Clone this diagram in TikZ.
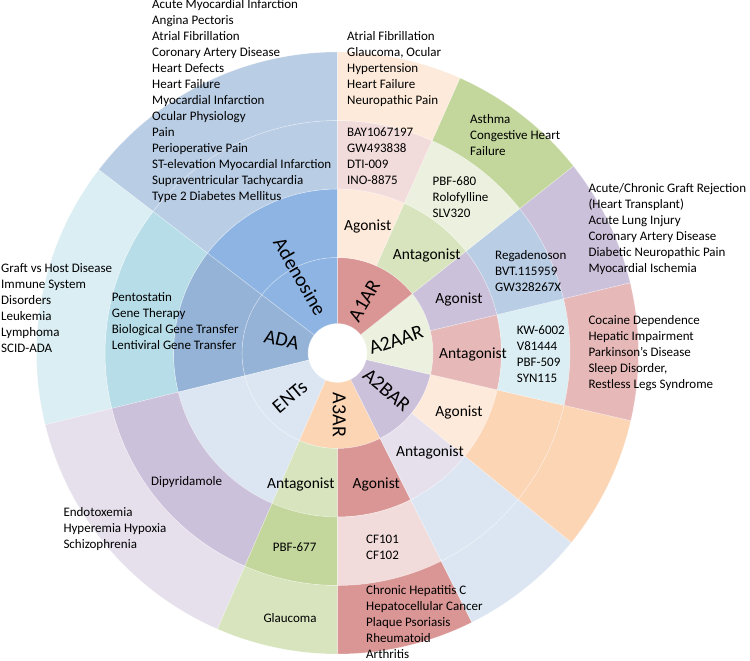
\documentclass[tikz,border=0pt]{standalone}
\usepackage{fontspec}
\setmainfont{Carlito}
\definecolor{adIn}{HTML}{8DB4E2}
\definecolor{adOut}{HTML}{B9CDE5}
\definecolor{adaIn}{HTML}{95B3D7}
\definecolor{cyanMid}{HTML}{B7DEE8}
\definecolor{cyanLt}{HTML}{DAEEF3}
\definecolor{blueLt}{HTML}{DCE6F2}
\definecolor{lav}{HTML}{CCC1DA}
\definecolor{lavLt}{HTML}{E6E0EC}
\definecolor{peach}{HTML}{FCD5B5}
\definecolor{peachLt}{HTML}{FDEADA}
\definecolor{greenLt}{HTML}{D7E4BD}
\definecolor{greenMid}{HTML}{C3D69B}
\definecolor{greenPale}{HTML}{EBF1DE}
\definecolor{redMid}{HTML}{D99694}
\definecolor{pinkLt}{HTML}{F2DCDB}
\definecolor{pinkMid}{HTML}{E6B9B8}
\newcommand{\sunseg}[5]{\path[seg,fill=#5] (#3:#1pt) arc[start angle=#3,end angle=#4,radius=#1pt] -- (#4:#2pt) arc[start angle=#4,end angle=#3,radius=#2pt] -- cycle;}
\begin{document}
\begin{tikzpicture}[x=1pt,y=1pt,
  sm/.style={font=\fontsize{13}{16}\selectfont, align=left, anchor=west, inner sep=0pt},
  md/.style={font=\fontsize{15.5}{18}\selectfont, inner sep=0pt},
  lg/.style={font=\fontsize{20}{24}\selectfont, inner sep=0pt},
  seg/.style={draw=white, draw opacity=0.35, line width=0.6pt}]
\useasboundingbox (0,0) rectangle (750,661);
\begin{scope}[shift={(337.5,308)}]
% Adenosine
\sunseg{29.5}{95.5}{90}{142.5}{adIn}
\sunseg{95.5}{164}{90}{142.5}{adIn}
\sunseg{164}{232.5}{90}{142.5}{adOut}
\sunseg{232.5}{301}{90}{142.5}{adOut}
% ADA
\sunseg{29.5}{95.5}{142.5}{193.8}{adaIn}
\sunseg{95.5}{164}{142.5}{193.8}{adaIn}
\sunseg{164}{232.5}{142.5}{193.8}{cyanMid}
\sunseg{232.5}{301}{142.5}{193.8}{cyanLt}
% ENTs
\sunseg{29.5}{95.5}{193.8}{246.5}{blueLt}
\sunseg{95.5}{164}{193.8}{246.5}{blueLt}
\sunseg{164}{232.5}{193.8}{246.5}{lav}
\sunseg{232.5}{301}{193.8}{246.5}{lavLt}
% A3AR
\sunseg{29.5}{95.5}{246.5}{296.5}{peach}
\sunseg{95.5}{164}{246.5}{270}{greenLt}
\sunseg{164}{232.5}{246.5}{270}{greenMid}
\sunseg{232.5}{301}{246.5}{270}{greenLt}
\sunseg{95.5}{164}{270}{296.5}{redMid}
\sunseg{164}{232.5}{270}{296.5}{pinkLt}
\sunseg{232.5}{301}{270}{296.5}{redMid}
% A2BAR
\sunseg{29.5}{95.5}{-63.5}{-13}{lav}
\sunseg{95.5}{164}{-63.5}{-39}{lavLt}
\sunseg{164}{232.5}{-63.5}{-39}{blueLt}
\sunseg{232.5}{301}{-63.5}{-39}{blueLt}
\sunseg{95.5}{164}{-39}{-13}{peachLt}
\sunseg{164}{232.5}{-39}{-13}{peach}
\sunseg{232.5}{301}{-39}{-13}{peach}
% A2AAR
\sunseg{29.5}{95.5}{-13}{38.4}{greenPale}
\sunseg{95.5}{164}{-13}{13.5}{pinkMid}
\sunseg{164}{232.5}{-13}{13.5}{cyanLt}
\sunseg{232.5}{301}{-13}{13.5}{pinkMid}
\sunseg{95.5}{164}{13.5}{38.4}{lav}
\sunseg{164}{232.5}{13.5}{38.4}{adOut}
\sunseg{232.5}{301}{13.5}{38.4}{lav}
% A1AR
\sunseg{29.5}{95.5}{38.4}{90}{redMid}
\sunseg{95.5}{164}{38.4}{66}{greenLt}
\sunseg{164}{232.5}{38.4}{66}{greenPale}
\sunseg{232.5}{301}{38.4}{66}{greenMid}
\sunseg{95.5}{164}{66}{90}{peachLt}
\sunseg{164}{232.5}{66}{90}{pinkLt}
\sunseg{232.5}{301}{66}{90}{peachLt}
\end{scope}
% inner ring labels
\node[lg,rotate=-60] (lAdenosine) at (300,384.3) {Adenosine};
\node[lg,rotate=60] (lA1AR) at (364.3,360.3) {A1AR};
\node[lg,rotate=18] (lA2AAR) at (396,321) {A2AAR};
\node[lg,rotate=-40] (lA2BAR) at (386.7,271) {A2BAR};
\node[lg,rotate=-90] (lA3AR) at (339.3,246) {A3AR};
\node[lg,rotate=40] (lENTs) at (290,264.3) {ENTs};
\node[lg,rotate=-13] (lADA) at (281.7,321) {ADA};
% ring 2 labels
\node[md] (ag1) at (367.7,434.3) {Agonist};
\node[md] (an1) at (426.7,405) {Antagonist};
\node[md] (ag2a) at (459,361.7) {Agonist};
\node[md] (an2a) at (473,306) {Antagonist};
\node[md] (ag2b) at (459,248.7) {Agonist};
\node[md] (an2b) at (430,208.3) {Antagonist};
\node[md] (ag3) at (376.3,176.7) {Agonist};
\node[md] (an3) at (300.8,176.7) {Antagonist};
% outer lists
\node[sm] (adDis) at (152,560) {Acute Myocardial Infarction\\Angina Pectoris\\Atrial Fibrillation\\Coronary Artery Disease\\Heart Defects\\Heart Failure\\Myocardial Infarction\\Ocular Physiology\\Pain\\Perioperative Pain\\ST-elevation Myocardial Infarction\\Supraventricular Tachycardia\\Type 2 Diabetes Mellitus};
\node[sm] (a1agDis) at (347,592.3) {Atrial Fibrillation\\Glaucoma, Ocular\\Hypertension\\Heart Failure\\Neuropathic Pain};
\node[sm] (a1agDrug) at (347,504.7) {BAY1067197\\GW493838\\DTI-009\\INO-8875};
\node[sm] (a1anDis) at (470,525.7) {Asthma\\Congestive Heart\\Failure};
\node[sm] (a1anDrug) at (432.5,464) {PBF-680\\Rolofylline\\SLV320};
\node[sm] (a2agDis) at (588.3,431.7) {Acute/Chronic Graft Rejection\\(Heart Transplant)\\Acute Lung Injury\\Coronary Artery Disease\\Diabetic Neuropathic Pain\\Myocardial Ischemia};
\node[sm] (a2agDrug) at (495,390) {Regadenoson\\BVT.115959\\GW328267X};
\node[sm] (a2anDrug) at (516.7,307) {KW-6002\\V81444\\PBF-509\\SYN115};
\node[sm] (a2anDis) at (588.3,307.7) {Cocaine Dependence\\Hepatic Impairment\\Parkinson’s Disease\\Sleep Disorder,\\Restless Legs Syndrome};
\node[sm] (adaDrug) at (111.7,339.5) {Pentostatin\\Gene Therapy\\Biological Gene Transfer\\Lentiviral Gene Transfer};
\node[sm] (adaDis) at (1,353) {Graft vs Host Disease\\Immune System\\Disorders\\Leukemia\\Lymphoma\\SCID-ADA};
\node[sm] (entDrug) at (151,179.3) {Dipyridamole};
\node[sm] (entDis) at (63.3,131.7) {Endotoxemia\\Hyperemia Hypoxia\\Schizophrenia};
\node[sm] (a3anDrug) at (272.7,114.3) {PBF-677};
\node[sm] (a3anDis) at (263.3,42.7) {Glaucoma};
\node[sm] (a3agDrug) at (366,113.8) {CF101\\CF102};
\node[sm] (a3agDis) at (366,38.8) {Chronic Hepatitis C\\Hepatocellular Cancer\\Plaque Psoriasis\\Rheumatoid\\Arthritis};
\end{tikzpicture}
\end{document}
